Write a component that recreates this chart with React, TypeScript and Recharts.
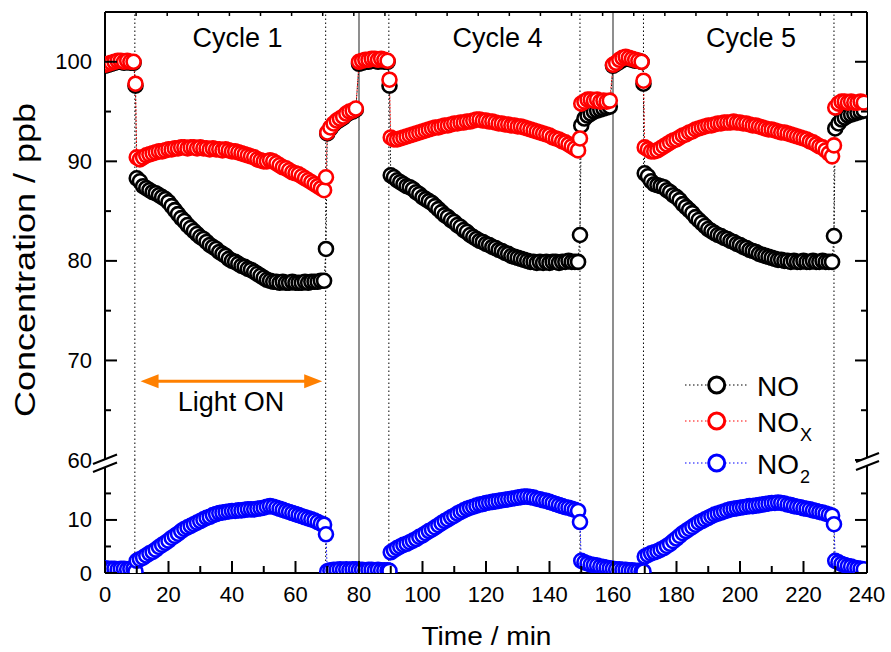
import React from 'react';
import { ComposedChart, Line, XAxis, YAxis, ReferenceLine } from 'recharts';

const FONT = '"Liberation Sans", Arial, sans-serif';

// minutes inside one 80-min cycle (extra points at the lamp switching moments)
const relTime = [
  0, 1, 2, 3, 4, 5, 6, 7, 8, 9, 9.6,
  10, 11, 12, 13, 14, 15, 16, 17, 18, 19, 20, 21, 22, 23, 24, 25, 26, 27, 28, 29,
  30, 31, 32, 33, 34, 35, 36, 37, 38, 39, 40, 41, 42, 43, 44, 45, 46, 47, 48, 49,
  50, 51, 52, 53, 54, 55, 56, 57, 58, 59, 60, 61, 62, 63, 64, 65, 66, 67, 68, 69,
  69.6, 70, 71, 72, 73, 74, 75, 76, 77, 78, 79,
];
const cycleStarts = [0, 80, 160];
const cycleNames = ['Cycle 1', 'Cycle 4', 'Cycle 5'];
const lightOnOff = [9.4, 69.5, 89.4, 149.6, 169.6, 229.6];
const cycleBounds = [80, 160];

const noCycle1 = [
  99.6, 99.7, 99.8, 99.9, 100, 100, 99.9, 100, 99.9, 99.9, 97.6,
  88.3, 88.0, 87.5, 87.3, 87.1, 86.9, 86.8, 86.6, 86.4, 86.2,
  85.9, 85.5, 85.1, 84.7, 84.3, 84.0, 83.6, 83.3, 83.0, 82.7,
  82.4, 82.2, 81.9, 81.6, 81.4, 81.2, 80.9, 80.7, 80.5, 80.2,
  80.0, 79.9, 79.7, 79.5, 79.4, 79.2, 79.1, 78.9, 78.7, 78.5,
  78.3, 78.1, 78.0, 77.9, 77.9, 77.8, 77.9, 77.8, 77.8, 77.9,
  77.8, 77.8, 77.8, 77.9, 77.8, 77.9, 77.9, 77.9, 78.0, 78.0,
  81.2, 92.8, 93.3, 93.7, 94.0, 94.2, 94.4, 94.7, 94.9, 95.0, 95.2,
];
const noxCycle1 = [
  99.7, 99.8, 99.9, 100, 100.1, 100.1, 100, 100.1, 100, 100, 97.8,
  90.4, 90.2, 90.4, 90.6, 90.7, 90.8, 90.9, 91.0, 91.0, 91.1,
  91.2, 91.2, 91.3, 91.3, 91.4, 91.4, 91.3, 91.4, 91.4, 91.3,
  91.4, 91.3, 91.3, 91.2, 91.3, 91.2, 91.2, 91.1, 91.2, 91.1,
  91.0, 91.0, 90.9, 90.8, 90.7, 90.6, 90.5, 90.4, 90.2, 90.1,
  90.0, 90.0, 90.1, 90.0, 89.8, 89.6, 89.4, 89.3, 89.1, 88.9,
  88.8, 88.7, 88.5, 88.3, 88.1, 87.9, 87.7, 87.5, 87.3, 87.1,
  88.4, 92.9, 93.4, 93.8, 94.1, 94.3, 94.5, 94.8, 95.0, 95.1, 95.3,
];
const no2Cycle1 = [
  0.9, 0.8, 0.8, 0.8, 0.7, 0.8, 0.8, 0.7, 0.8, 0.8, 0.3,
  2.3, 2.6, 2.9, 3.3, 3.7, 4.0, 4.4, 4.9, 5.3, 5.7,
  6.1, 6.6, 7.0, 7.4, 7.9, 8.3, 8.6, 8.9, 9.2, 9.5,
  9.8, 10.1, 10.4, 10.6, 10.9, 11.1, 11.3, 11.4, 11.5, 11.6,
  11.7, 11.7, 11.8, 11.8, 11.9, 12.0, 12.0, 12.0, 12.1, 12.2,
  12.3, 12.5, 12.6, 12.5, 12.3, 12.1, 11.9, 11.7, 11.5, 11.3,
  11.1, 10.9, 10.7, 10.5, 10.3, 10.1, 9.9, 9.6, 9.3, 9.1,
  7.3, 0.3, 0.5, 0.6, 0.6, 0.7, 0.6, 0.7, 0.6, 0.7, 0.7,
];

const noCycle4 = [
  99.8, 99.9, 100, 100, 100.1, 100.1, 100, 100.1, 100, 100, 97.6,
  88.6, 88.4, 88.1, 87.9, 87.7, 87.5, 87.4, 87.2, 86.9, 86.7,
  86.4, 86.2, 86.0, 85.8, 85.5, 85.2, 84.9, 84.6, 84.4, 84.1,
  83.9, 83.6, 83.4, 83.1, 82.9, 82.6, 82.4, 82.2, 82.0, 81.9,
  81.7, 81.6, 81.4, 81.3, 81.1, 81.0, 80.8, 80.7, 80.5, 80.4,
  80.3, 80.2, 80.1, 80.0, 79.9, 79.9, 79.8, 79.9, 79.8, 79.9,
  79.8, 79.9, 79.9, 79.8, 79.9, 79.9, 80.0, 79.9, 79.9, 79.9,
  82.6, 93.6, 94.3, 94.6, 94.8, 95.0, 95.1, 95.2, 95.3, 95.4, 95.5,
];
const noxCycle4 = [
  100, 100.1, 100.2, 100.2, 100.3, 100.3, 100.2, 100.3, 100.2, 100.1, 98.2,
  92.4, 92.2, 92.2, 92.3, 92.4, 92.5, 92.6, 92.7, 92.8, 92.9,
  93.0, 93.1, 93.2, 93.3, 93.4, 93.4, 93.5, 93.6, 93.6, 93.7,
  93.8, 93.8, 93.9, 93.9, 94.0, 94.0, 94.1, 94.2, 94.2, 94.1,
  94.1, 94.0, 94.0, 93.9, 93.8, 93.8, 93.7, 93.7, 93.6, 93.6,
  93.5, 93.5, 93.4, 93.3, 93.2, 93.1, 93.0, 92.9, 92.8, 92.7,
  92.6, 92.4, 92.3, 92.2, 92.0, 91.9, 91.7, 91.5, 91.3, 91.1,
  92.3, 95.8, 96.0, 96.2, 96.2, 96.1, 96.2, 96.0, 96.1, 96.0, 96.1,
];
const no2Cycle4 = [
  0.6, 0.6, 0.5, 0.6, 0.6, 0.5, 0.6, 0.5, 0.5, 0.5, 0.4,
  3.9, 4.3, 4.7, 5.0, 5.3, 5.5, 5.8, 6.1, 6.4, 6.8,
  7.1, 7.5, 7.9, 8.2, 8.6, 9.0, 9.4, 9.8, 10.1, 10.5,
  10.8, 11.2, 11.5, 11.8, 12.1, 12.3, 12.5, 12.7, 12.9, 13.0,
  13.2, 13.3, 13.4, 13.5, 13.6, 13.7, 13.8, 13.9, 14.0, 14.1,
  14.2, 14.3, 14.4, 14.4, 14.3, 14.2, 14.0, 13.9, 13.7, 13.6,
  13.4, 13.2, 13.0, 12.8, 12.6, 12.4, 12.3, 12.1, 11.9, 11.7,
  9.6, 2.3, 2.0, 1.8, 1.6, 1.5, 1.4, 1.2, 1.1, 1.0, 0.9,
];

const noCycle5 = [
  99.6, 99.8, 100, 100.2, 100.3, 100.3, 100.2, 100.1, 100.1, 100, 97.8,
  88.8, 88.5, 88.0, 87.7, 87.6, 87.5, 87.4, 87.1, 86.9, 86.6,
  86.4, 86.1, 85.7, 85.4, 85.1, 84.8, 84.4, 84.1, 83.8, 83.5,
  83.2, 83.0, 82.8, 82.6, 82.5, 82.3, 82.2, 82.0, 81.9, 81.7,
  81.6, 81.4, 81.3, 81.1, 81.0, 80.9, 80.7, 80.6, 80.5, 80.4,
  80.3, 80.2, 80.1, 80.1, 80.0, 80.0, 79.9, 80.0, 79.9, 79.9,
  80.0, 79.9, 79.9, 80.0, 79.9, 79.9, 80.0, 79.9, 79.9, 79.9,
  82.5, 93.3, 93.8, 94.2, 94.4, 94.6, 94.7, 94.8, 94.9, 95.0, 95.1,
];
const noxCycle5 = [
  99.7, 99.9, 100.2, 100.4, 100.5, 100.4, 100.3, 100.2, 100.1, 100, 98.1,
  91.4, 91.2, 91.0, 91.0, 91.1, 91.3, 91.5, 91.7, 91.9, 92.1,
  92.2, 92.4, 92.6, 92.7, 92.9, 93.0, 93.2, 93.3, 93.4, 93.5,
  93.6, 93.6, 93.7, 93.8, 93.8, 93.9, 93.9, 93.9, 94.0, 93.9,
  93.9, 93.8, 93.8, 93.7, 93.6, 93.6, 93.5, 93.4, 93.3, 93.2,
  93.2, 93.1, 93.0, 92.9, 92.9, 92.8, 92.7, 92.6, 92.5, 92.4,
  92.3, 92.2, 92.0, 91.9, 91.7, 91.5, 91.4, 91.1, 90.8, 90.5,
  91.6, 95.4, 95.8, 96.0, 96.0, 95.9, 96.0, 95.9, 95.9, 96.0, 95.9,
];
const no2Cycle5 = [
  0.8, 0.7, 0.7, 0.6, 0.6, 0.5, 0.5, 0.4, 0.4, 0.3, 0.3,
  3.1, 3.4, 3.7, 3.9, 4.1, 4.4, 4.7, 5.1, 5.5, 6.0,
  6.5, 7.0, 7.5, 7.9, 8.3, 8.7, 9.1, 9.5, 9.8, 10.1,
  10.4, 10.7, 11.0, 11.2, 11.4, 11.6, 11.8, 12.0, 12.1, 12.2,
  12.3, 12.4, 12.5, 12.6, 12.6, 12.7, 12.8, 12.9, 13.0, 13.1,
  13.2, 13.2, 13.3, 13.2, 13.1, 12.9, 12.8, 12.6, 12.5, 12.4,
  12.2, 12.1, 12.0, 11.8, 11.7, 11.5, 11.4, 11.2, 11.0, 10.8,
  9.2, 2.3, 2.0, 1.7, 1.5, 1.3, 1.2, 1.0, 0.9, 0.8, 0.7,
];

const xTicks = [0, 10, 20, 30, 40, 50, 60, 70, 80, 90, 100, 110, 120, 130, 140, 150, 160, 170, 180, 190, 200, 210, 220, 230, 240];
const upperTicks = [60, 65, 70, 75, 80, 85, 90, 95, 100];
const lowerTicks = [0, 5, 10, 15];

const noSets = [noCycle1, noCycle4, noCycle5];
const noxSets = [noxCycle1, noxCycle4, noxCycle5];
const no2Sets = [no2Cycle1, no2Cycle4, no2Cycle5];

const upperData = cycleStarts.flatMap((start, c) =>
  relTime.map((rt, i) => ({ t: start + rt, no: noSets[c][i], nox: noxSets[c][i] }))
);
const lowerData = cycleStarts.flatMap((start, c) =>
  relTime.map((rt, i) => ({ t: start + rt, no2: no2Sets[c][i] }))
);

const ring = (color: string) => (p: any) => (
  <circle key={`r${p.index}`} cx={p.cx} cy={p.cy} r={7} fill="#fff" stroke={color} strokeWidth={2.6} />
);

const LeftTick = (p: any) => {
  const major = p.payload.value % 10 === 0;
  return (
    <g>
      <line x1={p.x} x2={p.x + (major ? 12 : 6)} y1={p.y} y2={p.y} stroke="#000" strokeWidth={2} />
      {major && (
        <text x={p.x - 13} y={p.y + 7.5} textAnchor="end" fontSize={22} fontFamily={FONT} fill="#000">
          {p.payload.value}
        </text>
      )}
    </g>
  );
};

const RightTick = (p: any) => {
  const major = p.payload.value % 10 === 0;
  return <line x1={p.x} x2={p.x - (major ? 12 : 6)} y1={p.y} y2={p.y} stroke="#000" strokeWidth={2} />;
};

const TopTick = (p: any) => <line x1={p.x} x2={p.x} y1={p.y} y2={p.y + 4} stroke="#000" strokeWidth={1.5} />;

const BottomTick = (p: any) => {
  const major = p.payload.value % 20 === 0;
  return (
    <g>
      <line x1={p.x} x2={p.x} y1={p.y} y2={p.y - (major ? 12 : 7)} stroke="#000" strokeWidth={2} />
      {major && (
        <text x={p.x} y={p.y + 29} textAnchor="middle" fontSize={22} fontFamily={FONT} fill="#000">
          {p.payload.value}
        </text>
      )}
    </g>
  );
};

const Arrow = (p: any) => {
  const { x1, x2, y1 } = p;
  return (
    <g>
      <line x1={x1 + 14} x2={x2 - 14} y1={y1} y2={y1} stroke="#FF8000" strokeWidth={3} />
      <polygon points={`${x1},${y1} ${x1 + 18},${y1 - 7} ${x1 + 18},${y1 + 7}`} fill="#FF8000" />
      <polygon points={`${x2},${y1} ${x2 - 18},${y1 - 7} ${x2 - 18},${y1 + 7}`} fill="#FF8000" />
    </g>
  );
};

const refLines = () => [
  ...lightOnOff.map((x) => (
    <ReferenceLine key={`on${x}`} xAxisId="b" yAxisId="l" x={x} stroke="#000" strokeWidth={1} strokeDasharray="1.5 2.5" />
  )),
  ...cycleBounds.map((x) => (
    <ReferenceLine key={`cb${x}`} xAxisId="b" yAxisId="l" x={x} stroke="#444" strokeWidth={1.2} />
  )),
];

const axisLine = { stroke: '#000', strokeWidth: 2 };

const legendItems = [
  { name: 'NO', sub: '', color: '#000', y: 385 },
  { name: 'NO', sub: 'X', color: '#FF0000', y: 421 },
  { name: 'NO', sub: '2', color: '#0000FF', y: 463 },
];

export default function App() {
  return (
    <div style={{ position: 'absolute', left: 0, top: 0, width: 891, height: 652, background: '#fff' }}>
      <div style={{ position: 'absolute', left: 0, top: 0 }}>
        <ComposedChart width={891} height={480} data={upperData} margin={{ top: 0, right: 0, bottom: 20, left: 0 }}>
          <XAxis xAxisId="b" dataKey="t" type="number" domain={[0, 240]} hide allowDataOverflow />
          <XAxis
            xAxisId="top" orientation="top" type="number" domain={[0, 240]} ticks={xTicks} interval={0}
            height={12} tickSize={0} tickMargin={0} tick={<TopTick />} tickLine={false} axisLine={axisLine} allowDataOverflow
          />
          <YAxis
            yAxisId="l" type="number" domain={[60, 105]} ticks={upperTicks} interval={0} width={105}
            tickSize={0} tickMargin={0} tick={<LeftTick />} tickLine={false} axisLine={axisLine} allowDataOverflow
          />
          <YAxis
            yAxisId="r" orientation="right" type="number" domain={[60, 105]} ticks={upperTicks} interval={0} width={24}
            tickSize={0} tickMargin={0} tick={<RightTick />} tickLine={false} axisLine={axisLine} allowDataOverflow
          />
          {refLines()}
          <ReferenceLine xAxisId="b" yAxisId="l" segment={[{ x: 11.2, y: 67.9 }, { x: 68.4, y: 67.9 }]} shape={Arrow} />
          <Line
            xAxisId="b" yAxisId="l" dataKey="no" type="linear" stroke="#000" strokeWidth={1} strokeDasharray="1.5 2"
            dot={ring('#000')} activeDot={false} isAnimationActive={false}
          />
          <Line
            xAxisId="b" yAxisId="l" dataKey="nox" type="linear" stroke="#FF0000" strokeWidth={1} strokeDasharray="1.5 2"
            dot={ring('#FF0000')} activeDot={false} isAnimationActive={false}
          />
        </ComposedChart>
      </div>
      <div style={{ position: 'absolute', left: 0, top: 460 }}>
        <ComposedChart width={891} height={192} data={lowerData} margin={{ top: 0, right: 0, bottom: 0, left: 0 }}>
          <XAxis
            xAxisId="b" dataKey="t" type="number" domain={[0, 240]} ticks={xTicks} interval={0} height={79}
            tickSize={0} tickMargin={0} tick={<BottomTick />} tickLine={false} axisLine={axisLine} allowDataOverflow
          />
          <YAxis
            yAxisId="l" type="number" domain={[0, 21.3]} ticks={lowerTicks} interval={0} width={105}
            tickSize={0} tickMargin={0} tick={<LeftTick />} tickLine={false} axisLine={axisLine} allowDataOverflow
          />
          <YAxis
            yAxisId="r" orientation="right" type="number" domain={[0, 21.3]} ticks={lowerTicks} interval={0} width={24}
            tickSize={0} tickMargin={0} tick={<RightTick />} tickLine={false} axisLine={axisLine} allowDataOverflow
          />
          {refLines()}
          <Line
            xAxisId="b" yAxisId="l" dataKey="no2" type="linear" stroke="#0000FF" strokeWidth={1} strokeDasharray="1.5 2"
            dot={ring('#0000FF')} activeDot={false} isAnimationActive={false}
          />
        </ComposedChart>
      </div>
      <svg width={891} height={652} style={{ position: 'absolute', left: 0, top: 0, pointerEvents: 'none' }} fontFamily={FONT}>
        {/* axis breaks */}
        <polygon points="93,472 117,462.5 117,454.5 93,464" fill="#fff" />
        <line x1={93} y1={472} x2={117} y2={462.5} stroke="#000" strokeWidth={2} />
        <line x1={93} y1={464} x2={117} y2={454.5} stroke="#000" strokeWidth={2} />
        <polygon points="856,470 879,461 879,453 856,462" fill="#fff" />
        <line x1={856} y1={470} x2={879} y2={461} stroke="#000" strokeWidth={2} />
        <line x1={856} y1={462} x2={879} y2={453} stroke="#000" strokeWidth={2} />

        {cycleNames.map((name, i) => (
          <text key={name} x={[237.5, 497.5, 751][i]} y={47} textAnchor="middle" fontSize={27} fill="#000">
            {name}
          </text>
        ))}
        <text x={231} y={411} textAnchor="middle" fontSize={27} fill="#000">Light ON</text>

        {legendItems.map((it) => (
          <g key={it.sub || 'no'}>
            <line x1={685} x2={748} y1={it.y} y2={it.y} stroke={it.color} strokeWidth={1.2} strokeDasharray="1.5 2.5" />
            <circle cx={716.7} cy={it.y} r={8} fill="#fff" stroke={it.color} strokeWidth={3} />
            <text x={757} y={it.y + 10.5} fontSize={28} fill="#000">{it.name}</text>
            {it.sub && (
              <text x={800} y={it.y + 20} fontSize={18} fill="#000">{it.sub}</text>
            )}
          </g>
        ))}

        <text
          x={35} y={260} transform="rotate(-90, 35, 260)" textAnchor="middle" fontSize={29}
          textLength={314} lengthAdjust="spacingAndGlyphs" fill="#000"
        >
          Concentration / ppb
        </text>
        <text x={486.5} y={645} textAnchor="middle" fontSize={26} textLength={130} lengthAdjust="spacingAndGlyphs" fill="#000">
          Time / min
        </text>
      </svg>
    </div>
  );
}
